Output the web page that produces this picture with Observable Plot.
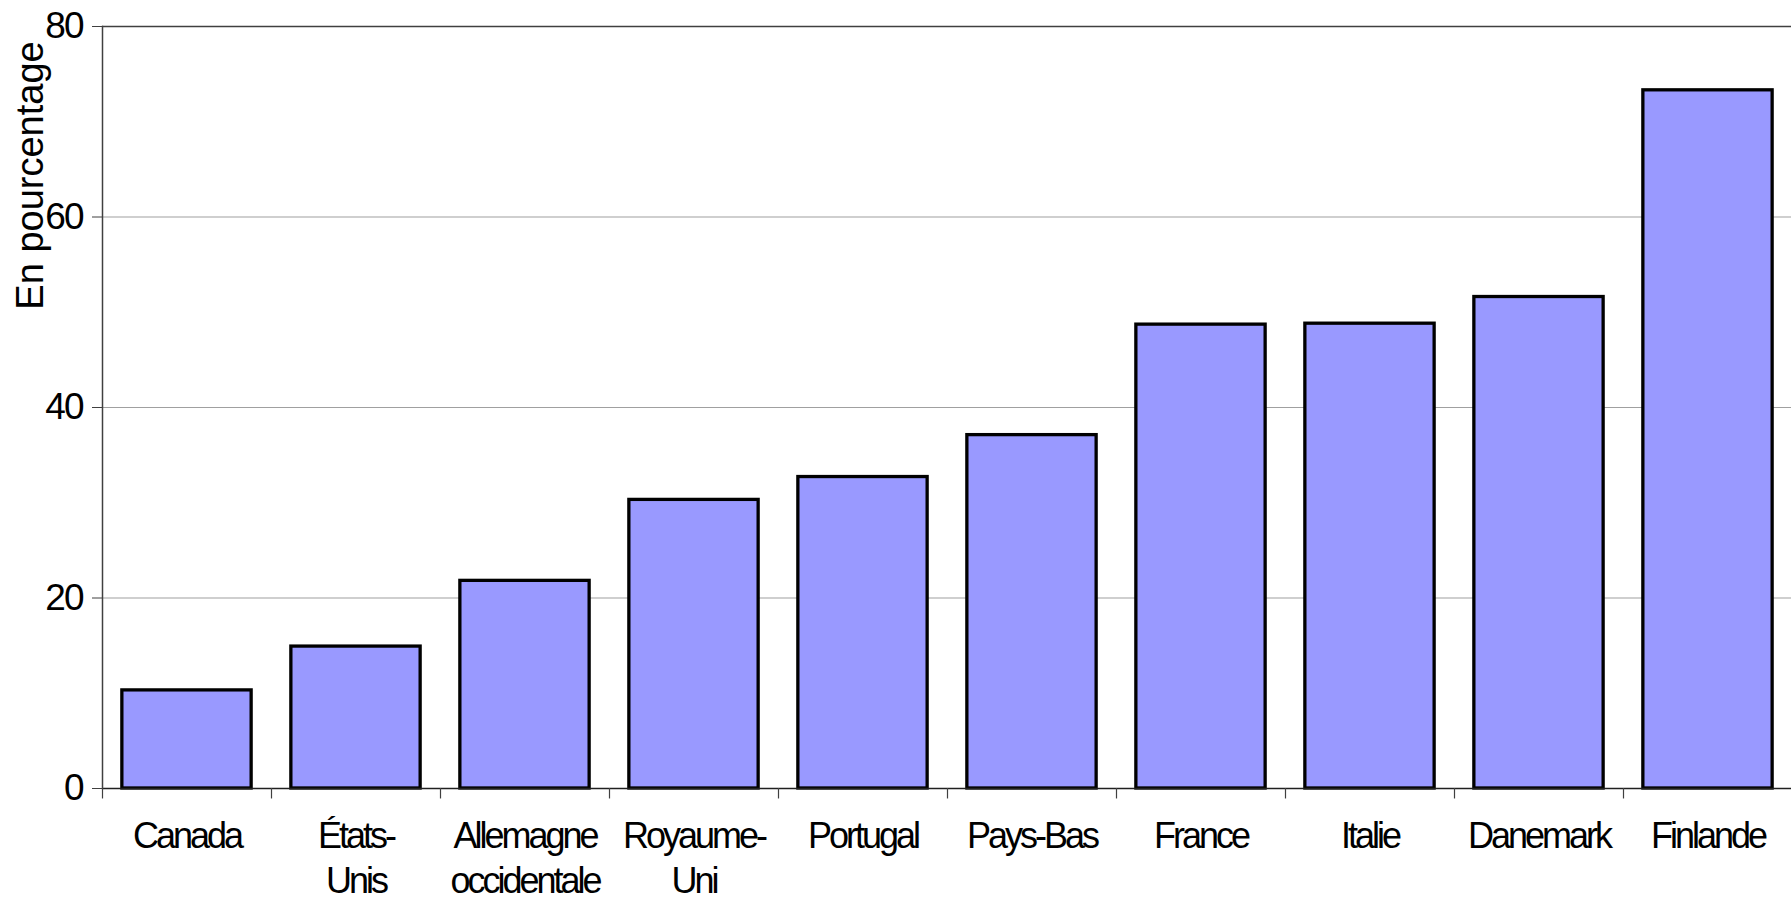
<!DOCTYPE html>
<html><head><meta charset="utf-8">
<script src="https://cdn.jsdelivr.net/npm/d3@7"></script>
<script src="https://cdn.jsdelivr.net/npm/@observablehq/plot@0.6"></script>
<style>
html,body{margin:0;padding:0;background:#fff} svg{display:block}
#chart svg g[aria-label="x-axis tick label"] { letter-spacing: -3px; }
#chart svg g[aria-label="y-axis tick label"] { letter-spacing: -2px; }
</style>
</head><body><div id="chart"></div>
<script>
const categories = ["Canada","États-Unis","Allemagne occidentale","Royaume-Uni","Portugal","Pays-Bas","France","Italie","Danemark","Finlande"];
const tickLabels = ["Canada","États-\nUnis","Allemagne\noccidentale","Royaume-\nUni","Portugal","Pays-Bas","France","Italie","Danemark","Finlande"];
const values = [10.3, 14.9, 21.8, 30.3, 32.7, 37.1, 48.7, 48.8, 51.6, 73.3];
const yTicks = [0, 20, 40, 60, 80];
const gridTicks = [20, 40, 60];
const yLabel = "En pourcentage";

const data = categories.map((c, i) => ({country: c, value: values[i]}));
const W = 1791, H = 901, mL = 102, mR = -1, mT = 26, mB = 113;
const step = (W - mL - mR) / categories.length;
const font = "'Liberation Sans', Arial, sans-serif";

const chart = Plot.plot({
  width: W, height: H,
  marginLeft: mL, marginRight: mR, marginTop: mT, marginBottom: mB,
  style: {fontFamily: font, fontSize: "36px", color: "#000", background: "#fff"},
  x: {domain: categories, paddingInner: 0.235, paddingOuter: 0.1175, round: false},
  y: {domain: [0, 80]},
  marks: [
    Plot.ruleY(gridTicks, {stroke: "#a0a0a0", strokeWidth: 1.2}),
    Plot.ruleY([80], {stroke: "#404040", strokeWidth: 1.5}),
    Plot.barY(data, {x: "country", y: "value", fill: "#9999ff", stroke: "#000", strokeWidth: 3.3}),
    Plot.ruleY([0], {stroke: "#202020", strokeWidth: 1.5}),
    Plot.frame({anchor: "left", stroke: "#404040", strokeWidth: 1.5}),
    Plot.axisY({ticks: yTicks, tickSize: 10, tickPadding: 10, label: null, stroke: "#404040", fontSize: 37}),
    Plot.ruleX(categories, {x: d => d, y1: 0, y2: -1.1, dx: -step / 2, stroke: "#404040", strokeWidth: 1.2}),
    Plot.axisX({tickSize: 0, tickPadding: 28, label: null, fontSize: 36, lineHeight: 1.25,
      tickFormat: d => tickLabels[categories.indexOf(d)]}),
    Plot.text([yLabel], {text: d => d, frameAnchor: "top-left", rotate: -90, dx: -72, dy: 149,
      fontSize: 38, textAnchor: "middle", lineAnchor: "middle", fill: "#000"})
  ]
});
document.getElementById("chart").appendChild(chart);
</script>
</body></html>
